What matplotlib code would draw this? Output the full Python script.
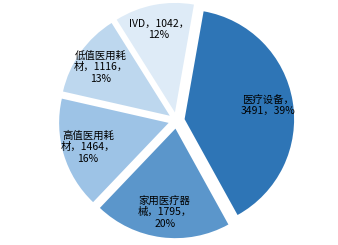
import matplotlib
matplotlib.use("Agg")
import matplotlib.pyplot as plt

plt.rcParams['font.family'] = ['Noto Sans CJK SC', 'DejaVu Sans']

categories = ["医疗设备", "家用医疗器械", "高值医用耗材", "低值医用耗材", "IVD"]
values = [3491, 1795, 1464, 1116, 1042]
percents = ["39%", "20%", "16%", "13%", "12%"]
labels = ["医疗设备，\n3491，39%", "家用医疗器\n械，1795，\n20%", "高值医用耗\n材，1464，\n16%",
          "低值医用耗\n材，1116，\n13%", "IVD，1042，\n12%"]
colors = ["#2E75B6", "#5B96CB", "#9DC3E6", "#BDD7EE", "#DEEBF7"]

fig = plt.figure(figsize=(3.38, 2.45), dpi=100)
ax = fig.add_axes([0, 0, 1, 1])
R = 109.5
cx, cy = 176.5, 120.5
wedges, texts = ax.pie(values, labels=labels, colors=colors, startangle=80, counterclock=False,
                       explode=[0.075] * 5, labeldistance=0.77,
                       wedgeprops=dict(linewidth=0),
                       textprops=dict(fontsize=7.5, color="black", ha="center", va="center", linespacing=1.2))
ax.set_xlim(-cx / R, (338 - cx) / R)
ax.set_ylim(-(245 - cy) / R, cy / R)
ax.set_aspect('auto')
ax.axis('off')
fig.savefig("out.png", dpi=100)
